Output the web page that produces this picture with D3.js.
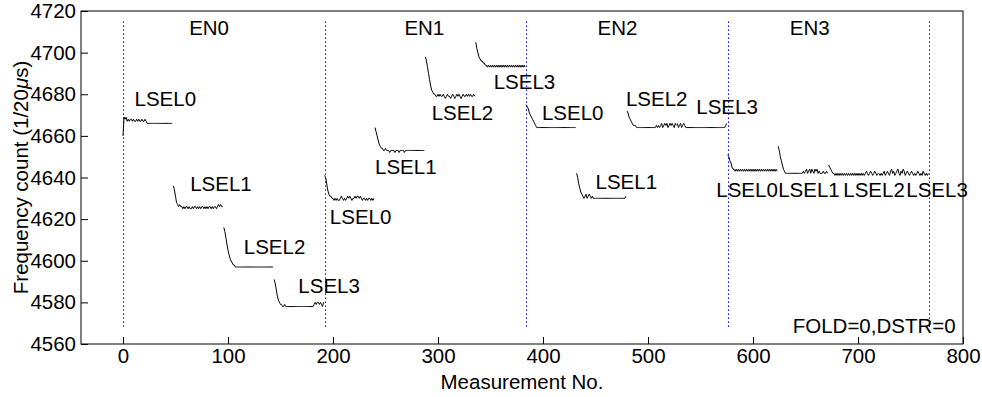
<!DOCTYPE html>
<html lang="en">
<head>
    <meta charset="UTF-8">
    <title>Frequency count</title>
    <script src="https://cdn.jsdelivr.net/npm/d3@7"></script>
    <style>
        body { margin: 0; background: #fff; }
        svg { display: block; font-family: "Liberation Sans", Arial, sans-serif; }
        .trace { fill: none; stroke: #000; stroke-width: 1; }
        .sep { stroke: #0000ff; stroke-width: 1; stroke-dasharray: 1.5,2.5; }
    </style>
</head>
<body>
    <svg width="982" height="397"></svg>

    <script>
        // one block of 48 measurements per LSEL, four LSEL per EN
        var perLsel = 48;

        var en0Counts = [
            [4660,4669,4668,4669,4667,4668,4667,4668,4668,4667,
             4668,4667,4667,4668,4667,4668,4667,4667,4668,4667,
             4667,4668,4667,4666,4666,4666,4666,4666,4666,4666,
             4666,4666,4666,4666,4666,4666,4666,4666,4666,4666,
             4666,4666,4666,4666,4666,4666,4666,4666],
            [4636,4634,4631,4628,4627,4626,4627,4626,4626,4625,
             4626,4625,4626,4626,4625,4626,4625,4625,4626,4625,
             4626,4626,4625,4626,4625,4626,4625,4626,4626,4625,
             4626,4625,4626,4625,4626,4626,4625,4626,4625,4626,
             4626,4625,4626,4627,4626,4627,4626,4626],
            [4616,4614,4611,4608,4605,4603,4601,4600,4599,4598,
             4598,4597,4597,4597,4597,4597,4597,4597,4597,4597,
             4597,4597,4597,4597,4597,4597,4597,4597,4597,4597,
             4597,4597,4597,4597,4597,4597,4597,4597,4597,4597,
             4597,4597,4597,4597,4597,4597,4597,4597],
            [4591,4589,4586,4583,4581,4580,4579,4579,4578,4578,
             4579,4578,4578,4578,4578,4578,4578,4578,4578,4578,
             4578,4578,4578,4578,4578,4578,4578,4578,4578,4578,
             4578,4578,4578,4578,4578,4578,4578,4578,4579,4580,
             4579,4580,4580,4579,4580,4579,4578,4580]
        ];

        var en1Counts = [
            [4641,4640,4637,4634,4632,4631,4631,4630,4630,4629,
             4630,4629,4630,4629,4629,4630,4631,4630,4629,4630,
             4629,4630,4631,4630,4631,4630,4629,4630,4630,4631,
             4630,4631,4631,4630,4631,4630,4629,4630,4630,4629,
             4630,4629,4630,4630,4629,4630,4629,4630],
            [4664,4662,4660,4658,4656,4655,4654,4654,4653,4653,
             4654,4653,4653,4653,4652,4653,4653,4653,4653,4652,
             4653,4653,4653,4652,4653,4653,4653,4653,4652,4653,
             4653,4653,4653,4653,4653,4653,4653,4653,4653,4653,
             4653,4653,4653,4653,4653,4653,4653,4653],
            [4698,4696,4693,4690,4687,4684,4682,4681,4680,4680,
             4679,4679,4680,4679,4680,4679,4679,4680,4679,4678,
             4679,4680,4679,4679,4678,4679,4680,4679,4678,4679,
             4680,4679,4680,4679,4678,4679,4680,4679,4679,4680,
             4679,4680,4679,4680,4679,4679,4680,4679],
            [4705,4702,4700,4698,4697,4696,4696,4695,4695,4694,
             4694,4693,4694,4693,4694,4693,4694,4693,4694,4693,
             4694,4693,4694,4693,4694,4693,4694,4693,4694,4693,
             4694,4693,4694,4693,4694,4693,4694,4693,4694,4693,
             4694,4693,4694,4693,4694,4693,4694,4693]
        ];

        var en2Counts = [
            [4675,4674,4673,4671,4670,4669,4668,4667,4666,4665,
             4664,4664,4664,4664,4664,4664,4664,4664,4664,4664,
             4664,4664,4664,4664,4664,4664,4664,4664,4664,4664,
             4664,4664,4664,4664,4664,4664,4664,4664,4664,4664,
             4664,4664,4664,4664,4664,4664,4664,4664],
            [4642,4640,4637,4635,4633,4632,4631,4630,4631,4632,
             4630,4631,4632,4631,4630,4631,4630,4630,4630,4630,
             4630,4630,4630,4630,4630,4630,4630,4630,4630,4630,
             4630,4630,4630,4630,4630,4630,4630,4630,4630,4630,
             4630,4630,4630,4630,4630,4630,4630,4631],
            [4672,4671,4669,4668,4667,4666,4665,4665,4665,4664,
             4664,4664,4664,4664,4664,4664,4664,4664,4664,4664,
             4664,4664,4664,4664,4664,4664,4664,4664,4665,4664,
             4665,4664,4665,4666,4664,4665,4666,4665,4666,4664,
             4665,4666,4665,4666,4665,4664,4666,4665],
            [4666,4664,4665,4666,4664,4665,4666,4665,4664,4664,
             4664,4664,4664,4664,4664,4664,4664,4664,4664,4664,
             4664,4664,4664,4664,4664,4664,4664,4664,4664,4664,
             4664,4664,4664,4664,4664,4664,4664,4664,4664,4664,
             4664,4664,4664,4664,4664,4664,4665,4666]
        ];

        var en3Counts = [
            [4651,4650,4648,4647,4645,4644,4644,4643,4644,4643,
             4644,4643,4644,4643,4644,4643,4644,4643,4644,4643,
             4644,4643,4644,4643,4644,4643,4644,4643,4644,4643,
             4644,4643,4644,4643,4644,4643,4644,4643,4644,4643,
             4644,4643,4644,4643,4644,4643,4644,4643],
            [4655,4653,4650,4648,4646,4644,4643,4642,4642,4642,
             4642,4642,4642,4642,4642,4642,4642,4642,4642,4642,
             4642,4642,4642,4642,4643,4642,4643,4644,4642,4643,
             4644,4642,4644,4643,4642,4644,4643,4644,4642,4643,
             4642,4642,4642,4643,4642,4642,4643,4642],
            [4646,4645,4644,4643,4642,4642,4641,4642,4641,4642,
             4641,4642,4641,4642,4641,4642,4641,4642,4641,4642,
             4641,4642,4641,4642,4641,4642,4641,4642,4641,4642,
             4641,4642,4641,4642,4641,4642,4643,4642,4641,4642,
             4643,4642,4641,4642,4643,4642,4641,4642],
            [4642,4641,4642,4641,4642,4643,4641,4642,4643,4642,
             4641,4643,4644,4642,4643,4641,4642,4643,4644,4642,
             4641,4643,4642,4644,4643,4641,4642,4643,4642,4641,
             4642,4643,4642,4641,4642,4641,4642,4643,4642,4641,
             4642,4641,4643,4642,4641,4642,4641,4642]
        ];

        var enBounds = [0, 192, 384, 576, 768];
        var xTicks = [0, 100, 200, 300, 400, 500, 600, 700, 800];
        var yTicks = [4560, 4580, 4600, 4620, 4640, 4660, 4680, 4700, 4720];

        // text annotations, [x, y] in data units
        var enNames = ["EN0", "EN1", "EN2", "EN3"];
        var enTextPos = [[63, 4712], [268, 4712], [452, 4712], [635, 4712]];
        var lselNames = ["LSEL0", "LSEL1", "LSEL2", "LSEL3"];
        var lselTextPos = [
            [[11, 4678], [64, 4637], [115, 4607], [167, 4588]],
            [[197, 4621], [240, 4645], [294, 4671], [353, 4686]],
            [[399, 4671], [450, 4638], [479, 4678], [546, 4674]],
            [[565, 4634], [624, 4634], [686, 4634], [746, 4634]]
        ];

        var svg = d3.select("svg");
        var plotL = 81, plotR = 963, plotT = 11, plotB = 344;

        var x = d3.scaleLinear().domain([-40, 800]).range([plotL, plotR]);
        var y = d3.scaleLinear().domain([4560, 4720]).range([plotB, plotT]);

        // separators between EN groups
        svg.selectAll("line.sep")
            .data(enBounds)
          .enter().append("line")
            .attr("class", "sep")
            .attr("x1", d => Math.round(x(d)) + 0.5).attr("x2", d => Math.round(x(d)) + 0.5)
            .attr("y1", y(4715)).attr("y2", y(4567));

        // traces
        var line = d3.line()
            .x(d => x(d.n))
            .y(d => y(d.v));

        var blocks = [];
        [en0Counts, en1Counts, en2Counts, en3Counts].forEach((en, e) => {
            en.forEach((vals, l) => {
                var start = (e * 4 + l) * perLsel;
                blocks.push(vals.map((v, i) => ({ n: start + i, v: v })));
            });
        });

        svg.selectAll("path.trace")
            .data(blocks)
          .enter().append("path")
            .attr("class", "trace")
            .attr("d", line);

        // axes
        var fontSize = 20.5;
        var xAxis = d3.axisBottom(x).tickValues(xTicks)
            .tickSizeInner(-7).tickSizeOuter(0).tickPadding(4);
        var yAxis = d3.axisLeft(y).tickValues(yTicks).tickFormat(d3.format("d"))
            .tickSizeInner(-7).tickSizeOuter(0).tickPadding(5);

        var gx = svg.append("g").attr("transform", "translate(0," + plotB + ")").call(xAxis);
        var gy = svg.append("g").attr("transform", "translate(" + plotL + ",0)").call(yAxis);
        [gx, gy].forEach(g => {
            g.attr("font-family", null).attr("font-size", fontSize);
            g.select(".domain").remove();
            g.selectAll(".tick line").attr("stroke", "#000");
            g.selectAll(".tick text").attr("fill", "#000");
        });

        svg.append("rect")
            .attr("x", plotL).attr("y", plotT)
            .attr("width", plotR - plotL).attr("height", plotB - plotT)
            .attr("fill", "none").attr("stroke", "#000");

        // annotations
        function label(txt, p, anchor) {
            svg.append("text")
                .attr("x", x(p[0])).attr("y", y(p[1]))
                .attr("dy", "0.36em")
                .attr("font-size", fontSize)
                .attr("text-anchor", anchor || "start")
                .text(txt);
        }
        enNames.forEach((t, i) => label(t, enTextPos[i]));
        lselTextPos.forEach(row => row.forEach((p, i) => label(lselNames[i], p)));
        label("FOLD=0,DSTR=0", [793, 4569], "end");

        // axis titles
        svg.append("text")
            .attr("x", (plotL + plotR) / 2).attr("y", 389)
            .attr("text-anchor", "middle")
            .attr("font-size", fontSize)
            .text("Measurement No.");

        var yl = svg.append("text")
            .attr("transform", "translate(28," + (plotT + plotB) / 2 + ") rotate(-90)")
            .attr("text-anchor", "middle")
            .attr("font-size", fontSize);
        yl.append("tspan").text("Frequency count (1/20");
        yl.append("tspan").attr("font-style", "italic").text("\u03bc");
        yl.append("tspan").text("s)");
    </script>
</body>
</html>
